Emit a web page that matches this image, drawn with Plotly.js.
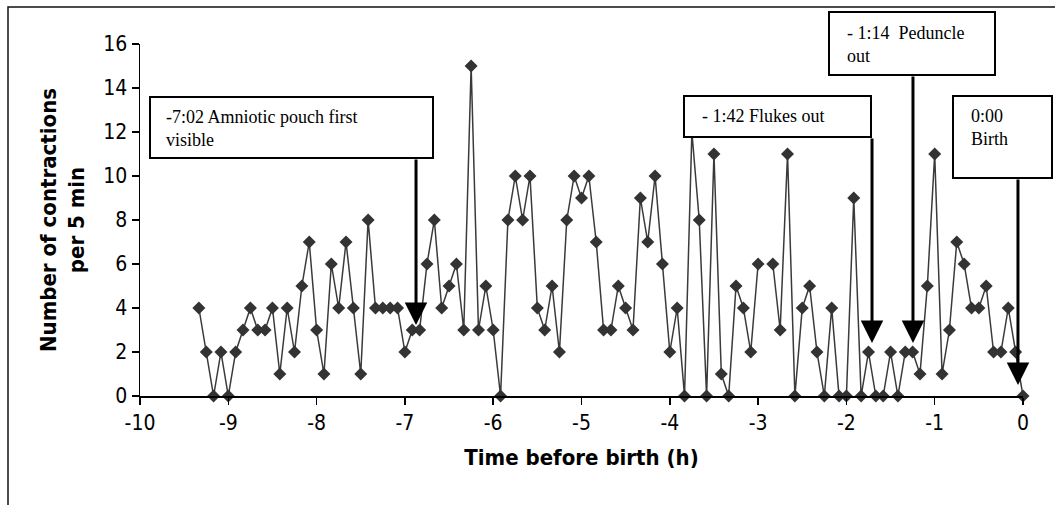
<!DOCTYPE html>
<html>
<head>
<meta charset="utf-8">
<script src="https://cdn.plot.ly/plotly-3.0.1.min.js"></script>
<style>
  html, body { margin: 0; padding: 0; background: #ffffff; }
  #chart { width: 1055px; height: 505px; }
</style>
</head>
<body>
<div id="chart"></div>
<script>
// Time of each 5-min count, minutes before birth
const timeMin = [
  -560,-555,-550,-545,-540,-535,-530,-525,-520,-515,
  -510,-505,-500,-495,-490,-485,-480,-475,-470,-465,
  -460,-455,-450,-445,-440,-435,-430,-425,-420,-415,
  -410,-405,-400,-395,-390,-385,-380,-375,-370,-365,
  -360,-355,-350,-345,-340,-335,-330,-325,-320,-315,
  -310,-305,-300,-295,-290,-285,-280,-275,-270,-265,
  -260,-255,-250,-245,-240,-235,-230,-225,-220,-215,
  -210,-205,-200,-195,-190,-185,-180,-175,-170,-165,
  -160,-155,-150,-145,-140,-135,-130,-125,-120,-115,
  -110,-105,-100,-95,-90,-85,-80,-75,-70,-65,
  -60,-55,-50,-45,-40,-35,-30,-25,-20,-15,
  -10,-5,0
];
// Number of contractions per 5 min (null = missing value)
const contractions = [
  4,2,0,2,0,2,3,4,3,3,
  4,1,4,2,5,7,3,1,6,4,
  7,4,1,8,4,4,4,4,2,3,
  3,6,8,4,5,6,3,15,3,5,
  3,0,8,10,8,10,4,3,5,2,
  8,10,9,10,7,3,3,5,4,3,
  9,7,10,6,2,4,0,12,8,0,
  11,1,0,5,4,2,6,null,6,3,
  11,0,4,5,2,0,4,0,0,9,
  0,2,0,0,2,0,2,2,1,5,
  11,1,3,7,6,4,4,5,2,2,
  4,2,0
];
const xTickVals = [-10,-9,-8,-7,-6,-5,-4,-3,-2,-1,0];
const yTickVals = [0,2,4,6,8,10,12,14,16];

// Event labels and where their arrows point (hours, count)
const eventLabels = [
  "-7:02 Amniotic pouch first<br>visible",
  "- 1:42 Flukes out",
  "- 1:14&nbsp;&nbsp;Peduncle<br>out",
  "0:00<br>Birth"
];
const eventArrowX = [-6.874, -1.71, -1.246, -0.057];
const eventArrowTipY = [3.23, 2.41, 2.41, 0.5];
const eventArrowTailY = [10.82, 11.77, 14.59, 9.91];

// ---- pixel layout helpers (plot area: x 140..1023, y 44..396) ----
const L = 140, R = 32, T = 44, B = 109, W = 1055, H = 505;
const PW = W - L - R, PH = H - T - B;
const px = v => (v - L) / PW;
const py = v => (H - B - v) / PH;

// box rectangles in pixel coords [x0, x1, y0(top), y1(bottom)] and text anchors
const boxPix = [
  [150, 433, 97, 158],
  [684, 871, 96, 137],
  [829, 995, 12, 75],
  [953, 1052, 96, 178]
];
const textPix = [[164, 105], [700, 104], [845, 21], [969, 104]];

const serif = "'Liberation Serif', 'Times New Roman', Times, serif";
const narrow = "'Liberation Sans Narrow', 'Arial Narrow', 'DejaVu Sans Condensed', Arial, sans-serif";

const trace = {
  x: timeMin.map(m => m / 60),
  y: contractions,
  type: 'scatter',
  mode: 'lines+markers',
  connectgaps: false,
  cliponaxis: false,
  line: { color: '#3a3a3a', width: 1.5 },
  marker: { symbol: 'diamond', size: 10, color: '#333333' },
  hoverinfo: 'x+y'
};

const shapes = [];
// outer chart frame
shapes.push({
  type: 'rect', xref: 'paper', yref: 'paper',
  x0: px(8), x1: px(1062), y0: py(512), y1: py(7),
  line: { color: '#111', width: 1.5 }, fillcolor: 'rgba(0,0,0,0)', layer: 'above'
});
boxPix.forEach(b => {
  shapes.push({
    type: 'rect', xref: 'paper', yref: 'paper',
    x0: px(b[0]), x1: px(b[1]), y0: py(b[3]), y1: py(b[2]),
    line: { color: '#000', width: 2 }, fillcolor: '#ffffff', layer: 'above'
  });
});

const annotations = [];
eventLabels.forEach((t, i) => {
  annotations.push({
    xref: 'paper', yref: 'paper',
    x: px(textPix[i][0]), y: py(textPix[i][1]),
    xanchor: 'left', yanchor: 'top', align: 'left',
    text: t, showarrow: false,
    font: { family: serif, size: 18, color: '#000' }
  });
  annotations.push({
    xref: 'x', yref: 'y', axref: 'x', ayref: 'y',
    x: eventArrowX[i], y: eventArrowTipY[i],
    ax: eventArrowX[i], ay: eventArrowTailY[i],
    text: '', showarrow: true,
    arrowhead: 2, arrowsize: 1.5, arrowwidth: 3, arrowcolor: '#000',
    standoff: 0, startstandoff: 0
  });
});

const layout = {
  width: W, height: H,
  margin: { l: L, r: R, t: T, b: B, pad: 0 },
  paper_bgcolor: '#ffffff', plot_bgcolor: '#ffffff',
  showlegend: false,
  font: { family: narrow, color: '#000' },
  xaxis: {
    range: [-10, 0], tickvals: xTickVals, ticktext: xTickVals.map(String),
    ticks: 'outside', ticklen: 7, tickwidth: 1.5, tickcolor: '#000',
    showline: true, linecolor: '#000', linewidth: 1.5,
    showgrid: false, zeroline: false,
    tickfont: { family: narrow, size: 21, color: '#000' },
    title: { text: 'Time before birth (h)', standoff: 16,
             font: { family: narrow, size: 22, weight: 'bold', color: '#000' } }
  },
  yaxis: {
    range: [0, 16], tickvals: yTickVals, ticktext: yTickVals.map(String),
    ticks: 'outside', ticklen: 7, tickwidth: 1.5, tickcolor: '#000',
    showline: true, linecolor: '#000', linewidth: 1.5,
    showgrid: false, zeroline: false,
    tickfont: { family: narrow, size: 21, color: '#000' },
    title: { text: 'Number of contractions<br>per 5 min', standoff: 12,
             font: { family: narrow, size: 22, weight: 'bold', color: '#000' } }
  },
  shapes: shapes,
  annotations: annotations
};

Plotly.newPlot('chart', [trace], layout, { displayModeBar: false, staticPlot: true });
</script>
</body>
</html>
